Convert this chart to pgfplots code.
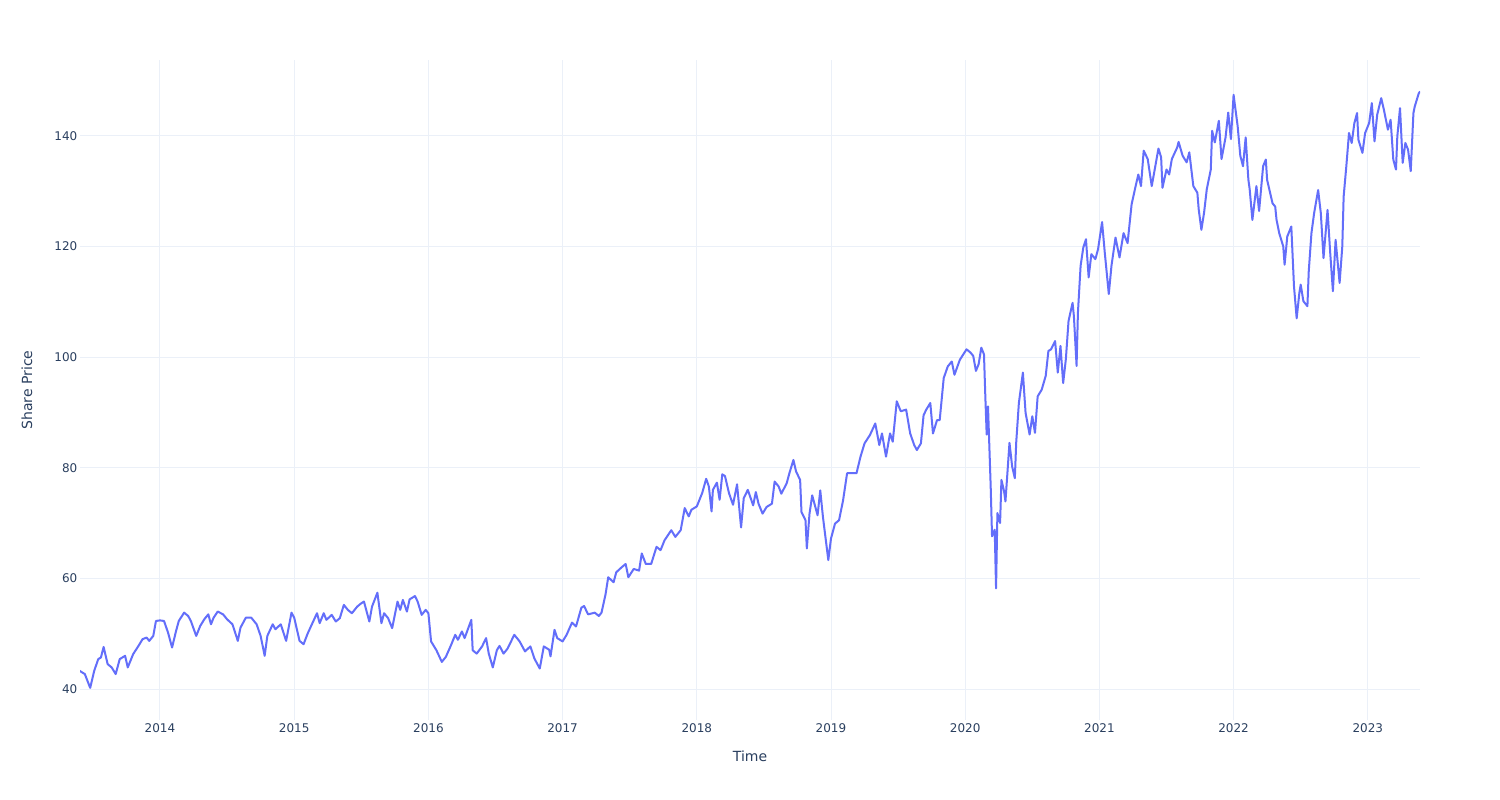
\documentclass[border=0pt]{standalone}
\usepackage{pgfplots}
\pgfplotsset{compat=1.18}
\usepackage{fontspec}
\setmainfont{DejaVu Sans}
\definecolor{plotline}{HTML}{636EFA}
\definecolor{gridc}{HTML}{EBF0F8}
\definecolor{txt}{HTML}{2A3F5F}
\pgfplotstableread{
x y
2013.40 43.3
2013.44 42.7
2013.48 40.2
2013.51 43.3
2013.54 45.4
2013.56 45.7
2013.58 47.6
2013.61 44.5
2013.64 43.9
2013.67 42.7
2013.70 45.4
2013.74 46.0
2013.76 43.9
2013.80 46.3
2013.84 47.8
2013.87 49.0
2013.90 49.3
2013.92 48.7
2013.95 49.6
2013.97 52.3
2014.00 52.4
2014.03 52.3
2014.06 50.2
2014.09 47.5
2014.12 50.5
2014.14 52.3
2014.18 53.8
2014.21 53.2
2014.23 52.3
2014.27 49.6
2014.30 51.4
2014.33 52.6
2014.36 53.5
2014.38 51.7
2014.40 52.9
2014.43 54.0
2014.47 53.5
2014.50 52.6
2014.54 51.7
2014.58 48.7
2014.60 51.1
2014.64 52.9
2014.68 52.9
2014.72 51.7
2014.75 49.6
2014.78 46.0
2014.80 49.6
2014.84 51.7
2014.86 50.8
2014.90 51.7
2014.94 48.7
2014.98 53.8
2015.00 52.9
2015.04 48.7
2015.07 48.1
2015.10 50.0
2015.13 51.6
2015.17 53.7
2015.19 51.9
2015.22 53.7
2015.24 52.5
2015.28 53.4
2015.31 52.2
2015.34 52.8
2015.37 55.2
2015.40 54.3
2015.43 53.7
2015.47 54.9
2015.50 55.5
2015.52 55.8
2015.56 52.2
2015.58 54.9
2015.62 57.4
2015.65 51.9
2015.67 53.7
2015.70 52.8
2015.73 51.0
2015.77 55.8
2015.79 54.3
2015.81 56.1
2015.84 54.0
2015.86 56.2
2015.90 56.8
2015.92 55.8
2015.95 53.4
2015.98 54.3
2016.00 53.7
2016.02 48.6
2016.06 47.0
2016.10 44.9
2016.13 45.8
2016.17 48.0
2016.20 49.8
2016.22 48.9
2016.25 50.4
2016.27 49.2
2016.32 52.5
2016.33 47.0
2016.36 46.4
2016.40 47.7
2016.43 49.2
2016.45 46.4
2016.48 43.9
2016.51 47.0
2016.53 47.8
2016.56 46.4
2016.59 47.3
2016.64 49.8
2016.68 48.6
2016.72 46.8
2016.76 47.7
2016.79 45.5
2016.83 43.7
2016.86 47.7
2016.90 47.1
2016.91 45.9
2016.94 50.7
2016.96 49.2
2017.00 48.6
2017.03 49.8
2017.07 52.0
2017.10 51.3
2017.14 54.7
2017.16 55.0
2017.19 53.5
2017.24 53.8
2017.27 53.2
2017.29 53.8
2017.32 57.1
2017.34 60.2
2017.38 59.3
2017.40 61.1
2017.44 62.0
2017.47 62.6
2017.49 60.2
2017.53 61.7
2017.57 61.4
2017.59 64.5
2017.62 62.6
2017.66 62.6
2017.70 65.7
2017.73 65.1
2017.76 66.9
2017.81 68.7
2017.84 67.5
2017.88 68.7
2017.91 72.7
2017.94 71.2
2017.96 72.4
2018.00 73.0
2018.04 75.4
2018.07 78.0
2018.09 76.6
2018.11 72.1
2018.12 76.0
2018.15 77.3
2018.17 74.2
2018.19 78.8
2018.21 78.5
2018.24 75.4
2018.27 73.3
2018.30 77.0
2018.33 69.2
2018.35 74.5
2018.38 76.0
2018.42 73.2
2018.44 75.6
2018.46 73.5
2018.49 71.7
2018.52 72.9
2018.56 73.5
2018.58 77.5
2018.61 76.6
2018.63 75.3
2018.67 77.2
2018.69 79.0
2018.72 81.4
2018.74 79.3
2018.77 77.8
2018.78 72.0
2018.81 70.5
2018.82 65.4
2018.84 71.7
2018.86 75.0
2018.88 73.2
2018.90 71.4
2018.92 75.9
2018.94 71.1
2018.98 63.3
2019.00 67.2
2019.03 69.9
2019.06 70.5
2019.09 74.1
2019.12 79.0
2019.15 79.0
2019.19 79.0
2019.22 82.0
2019.25 84.4
2019.29 85.9
2019.33 88.0
2019.36 84.1
2019.38 86.2
2019.41 82.0
2019.44 86.2
2019.46 84.7
2019.49 92.0
2019.52 90.2
2019.56 90.5
2019.59 86.2
2019.62 84.1
2019.64 83.2
2019.67 84.4
2019.69 89.5
2019.71 90.5
2019.74 91.7
2019.76 86.2
2019.79 88.6
2019.81 88.6
2019.84 96.2
2019.87 98.3
2019.90 99.2
2019.92 96.8
2019.96 99.5
2020.01 101.4
2020.04 100.8
2020.06 100.2
2020.08 97.5
2020.10 98.7
2020.12 101.7
2020.14 100.5
2020.15 92.9
2020.16 86.0
2020.17 91.1
2020.19 76.6
2020.20 67.6
2020.22 68.8
2020.23 58.2
2020.24 71.8
2020.26 70.0
2020.27 77.8
2020.29 75.7
2020.30 73.9
2020.33 84.5
2020.35 80.2
2020.37 78.1
2020.38 84.5
2020.40 91.7
2020.43 97.2
2020.44 93.5
2020.45 89.9
2020.48 86.0
2020.50 89.3
2020.52 86.3
2020.54 92.9
2020.57 94.1
2020.60 96.6
2020.62 101.1
2020.64 101.4
2020.67 102.9
2020.69 97.2
2020.71 102.0
2020.73 95.3
2020.75 99.6
2020.77 106.5
2020.80 109.8
2020.81 107.4
2020.83 98.4
2020.84 108.0
2020.86 116.5
2020.88 119.8
2020.90 121.3
2020.92 114.4
2020.94 118.6
2020.97 117.7
2020.99 119.5
2021.02 124.4
2021.04 118.9
2021.07 111.4
2021.09 116.5
2021.12 121.6
2021.15 118.0
2021.18 122.4
2021.21 120.6
2021.24 127.6
2021.27 130.9
2021.29 133.0
2021.31 130.9
2021.33 137.3
2021.36 135.8
2021.39 130.9
2021.41 133.6
2021.44 137.7
2021.46 136.1
2021.47 130.6
2021.50 133.9
2021.52 133.0
2021.54 135.8
2021.58 137.9
2021.59 138.9
2021.62 136.4
2021.65 135.2
2021.67 137.0
2021.70 130.9
2021.73 129.7
2021.74 126.7
2021.76 123.0
2021.78 126.1
2021.80 130.3
2021.83 133.9
2021.84 140.9
2021.86 138.8
2021.89 142.7
2021.91 135.8
2021.94 139.7
2021.96 144.2
2021.98 139.4
2022.00 147.4
2022.01 145.5
2022.03 141.8
2022.05 136.4
2022.07 134.5
2022.09 139.7
2022.11 132.1
2022.12 130.3
2022.14 124.8
2022.17 130.9
2022.19 126.4
2022.22 134.5
2022.24 135.7
2022.25 132.0
2022.29 127.8
2022.31 127.2
2022.32 124.8
2022.34 122.4
2022.37 120.0
2022.38 116.7
2022.40 121.8
2022.43 123.6
2022.45 112.8
2022.47 107.0
2022.49 111.6
2022.50 113.1
2022.52 110.1
2022.55 109.2
2022.56 115.5
2022.58 122.4
2022.60 126.0
2022.63 130.2
2022.65 126.0
2022.67 117.9
2022.70 126.6
2022.72 118.8
2022.74 111.9
2022.76 121.2
2022.79 113.4
2022.81 120.0
2022.82 129.0
2022.84 134.5
2022.86 140.5
2022.88 138.7
2022.90 142.3
2022.92 144.1
2022.93 139.3
2022.96 136.9
2022.98 140.5
2023.01 142.3
2023.03 145.9
2023.05 139.0
2023.07 143.8
2023.10 146.8
2023.12 144.7
2023.15 141.1
2023.17 142.9
2023.19 135.7
2023.21 133.9
2023.22 139.9
2023.24 145.0
2023.26 135.1
2023.28 138.7
2023.30 137.5
2023.32 133.6
2023.34 144.1
2023.35 145.3
2023.38 147.7
2023.39 148.0
}\pricedata
\begin{document}
\begin{tikzpicture}
\fill[white] (0,0) rectangle (150mm,80mm);
\useasboundingbox (0,0) rectangle (150mm,80mm);
\begin{axis}[
  at={(8mm,8mm)}, anchor=south west,
  scale only axis, width=134mm, height=66mm,
  xmin=2013.404, xmax=2023.389, ymin=34.4, ymax=153.7,
  axis line style={draw=none},
  tick style={draw=none},
  grid=major,
  major grid style={draw=gridc, line width=0.28pt},
  xtick={2014,2015,2016,2017,2018,2019,2020,2021,2022,2023},
  xticklabels={2014,2015,2016,2017,2018,2019,2020,2021,2022,2023},
  ytick={40,60,80,100,120,140},
  /pgf/number format/assume math mode=true,
  ticklabel style={font=\fontsize{3.41}{4}\selectfont, text=txt},
  xticklabel style={anchor=center, yshift=-0.8mm},
  yticklabel style={anchor=east, inner sep=0pt, xshift=-0.2mm},
  xlabel={Time}, ylabel={Share Price},
  label style={font=\fontsize{3.98}{4.6}\selectfont, text=txt},
  xlabel style={at={(axis description cs:0.5,0)}, anchor=center, yshift=-3.6mm},
  ylabel style={at={(axis description cs:-0.0396,0.5)}, anchor=center},
  clip=true,
]
\addplot[plotline, line width=0.57pt, line join=round, no markers] table[x=x,y=y] {\pricedata};
\end{axis}
\end{tikzpicture}
\end{document}
